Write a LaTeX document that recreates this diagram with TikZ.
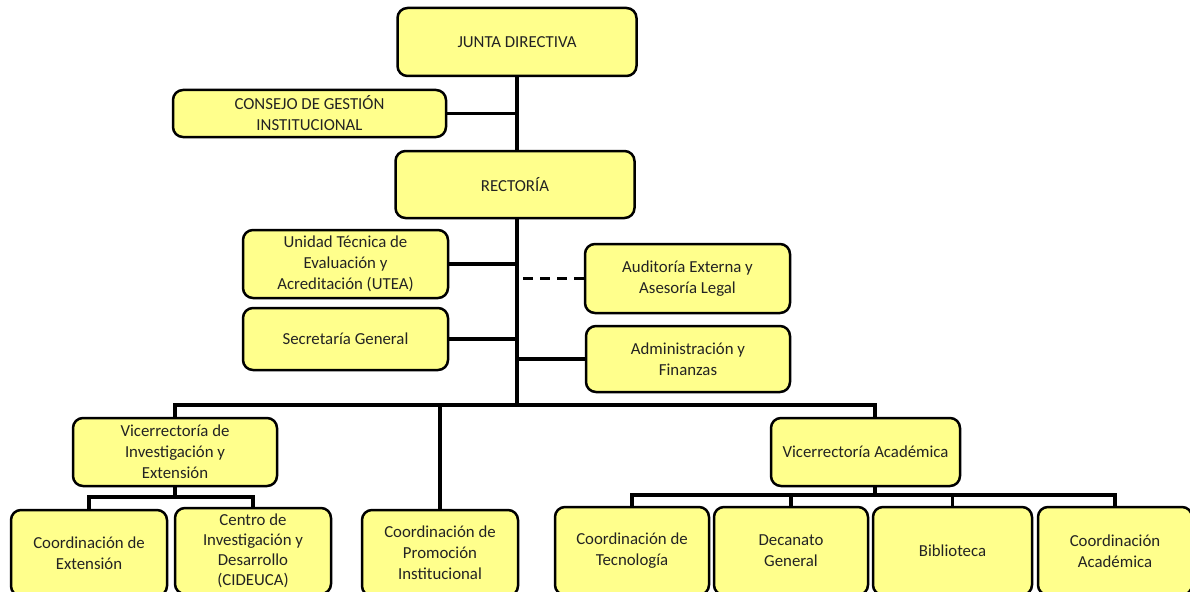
\documentclass[tikz,border=0pt]{standalone}
\usepackage{fontspec}
\setmainfont{Carlito}
\definecolor{boxfill}{RGB}{255,255,140}
\definecolor{txt}{RGB}{35,35,35}
\tikzset{
  box/.style={draw=black, line width=2.5pt, fill=boxfill, rounded corners=10pt,
    align=center, inner sep=2pt, text=txt,
    font=\fontsize{16.8}{21}\selectfont},
  conn/.style={line width=3.2pt, draw=black},
}
\begin{document}
\begin{tikzpicture}[x=1pt,y=-1pt]
\useasboundingbox (0,0) rectangle (1190,591);
\clip (0,0) rectangle (1190,591);
\fill[white] (0,0) rectangle (1190,591);
\coordinate (bus) at (517,405);
\coordinate (vieb) at (175,497);
\coordinate (vab) at (875,495);
% nodes
\node[box, minimum width=239pt, minimum height=68pt] (JD) at (517,42) {JUNTA DIRECTIVA};
\node[box, minimum width=273pt, minimum height=47pt] (CGI) at (309.5,113.5) {CONSEJO DE GESTIÓN\\INSTITUCIONAL};
\node[box, minimum width=239pt, minimum height=67pt] (REC) at (515,184.5) {RECTORÍA};
\node[box, minimum width=205pt, minimum height=68pt] (UTEA) at (345.5,264) {Unidad Técnica de\\Evaluación y\\Acreditación (UTEA)};
\node[box, minimum width=205pt, minimum height=62pt] (SG) at (345.5,339) {Secretaría General};
\node[box, minimum width=205pt, minimum height=69pt] (AUD) at (687.5,278.5) {Auditoría Externa y\\Asesoría Legal};
\node[box, minimum width=204pt, minimum height=66pt] (ADM) at (688,359) {Administración y\\Finanzas};
\node[box, minimum width=204pt, minimum height=68pt] (VIE) at (175,452) {Vicerrectoría de\\Investigación y\\Extensión};
\node[box, minimum width=189pt, minimum height=68pt] (VA) at (865.5,452) {Vicerrectoría Académica};
\node[box, minimum width=156pt, minimum height=86pt] (CE) at (89,553) {Coordinación de\\Extensión};
\node[box, minimum width=156pt, minimum height=86pt, font=\fontsize{16.8}{20}\selectfont] (CID) at (253,551) {Centro de\\Investigación y\\Desarrollo\\(CIDEUCA)};
\node[box, minimum width=156pt, minimum height=86pt] (CPI) at (440,553) {Coordinación de\\Promoción\\Institucional};
\node[box, minimum width=154pt, minimum height=88pt] (CT) at (632,551) {Coordinación de\\Tecnología};
\node[box, minimum width=154pt, minimum height=88pt] (DG) at (791,551) {Decanato\\General};
\node[box, minimum width=159pt, minimum height=88pt] (BIB) at (952.5,551) {Biblioteca};
\node[box, minimum width=154pt, minimum height=88pt] (CA) at (1115,551) {Coordinación\\Académica};
% connectors
\draw[conn] (JD.south -| bus) -- (REC.north -| bus);
\draw[conn] (REC.south -| bus) -- (bus);
\draw[conn] (CGI.east) -- (CGI.east -| bus);
\draw[conn] (UTEA.east) -- (UTEA.east -| bus);
\draw[conn] (SG.east) -- (SG.east -| bus);
\draw[conn, dash pattern=on 10pt off 7pt] (AUD.west) -- (AUD.west -| bus);
\draw[conn] (ADM.west) -- (ADM.west -| bus);
\draw[conn] (VIE.north) |- (bus) -| ([xshift=9.5pt]VA.north);
\draw[conn] (CPI.north) -- (CPI.north |- bus);
\draw[conn] (VIE.south) -- (vieb);
\draw[conn] (CE.north) |- (vieb) -| (CID.north);
\draw[conn] ([xshift=9.5pt]VA.south) -- (vab);
\draw[conn] (CT.north) |- (vab) -| (CA.north);
\draw[conn] (DG.north) -- (DG.north |- vab);
\draw[conn] (BIB.north) -- (BIB.north |- vab);
\end{tikzpicture}
\end{document}
